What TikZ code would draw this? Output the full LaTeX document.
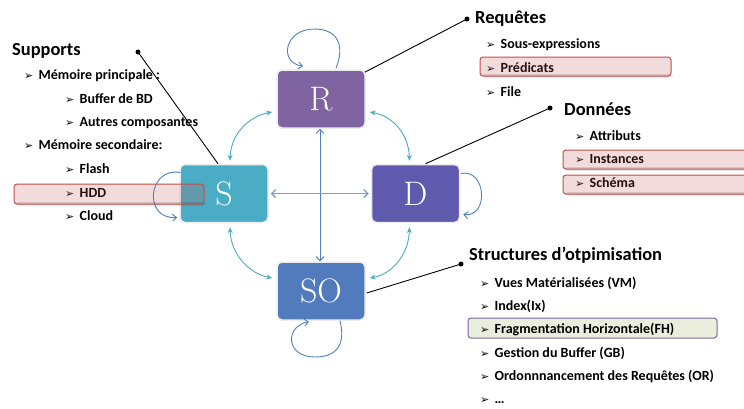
\documentclass[tikz,border=0pt]{standalone}
\usepackage{fontspec}
\newfontfamily\carl{Carlito}
\newfontfamily\bulfont{DejaVu Sans}
\usetikzlibrary{arrows.meta}

\definecolor{rcol}{HTML}{8064A2}
\definecolor{scol}{HTML}{4BACC6}
\definecolor{dcol}{HTML}{5F5AAD}
\definecolor{socol}{HTML}{517BBD}
\definecolor{tealarr}{HTML}{4BACC6}
\definecolor{bluearr}{HTML}{4F81BD}
\definecolor{hbar}{HTML}{7F9DCB}
\definecolor{hlred}{HTML}{C0504D}
\definecolor{fhfill}{HTML}{EAEEDD}

\tikzset{
  box/.style={rounded corners=5pt, draw=black!7, line width=1.5pt,
    minimum width=88pt, minimum height=58pt, inner sep=0pt,
    text=white, font=\fontsize{34}{40}\selectfont},
  head/.style={anchor=base west, inner sep=0pt,
    font=\carl\bfseries\fontsize{18.4}{21}\selectfont},
  item/.style={anchor=base west, inner sep=0pt,
    font=\carl\bfseries\fontsize{14}{16}\selectfont},
  bul/.style={anchor=base west, inner sep=0pt,
    font=\bulfont\fontsize{11}{12}\selectfont},
  twoway/.style={tealarr, line width=0.9pt, {Stealth[length=6pt,width=5pt]}-{Stealth[length=6pt,width=5pt]}},
  loopy/.style={bluearr, line width=0.9pt, -{Straight Barb[length=4pt,width=7pt]}},
  straight/.style={line width=1pt, {Straight Barb[length=4pt,width=8pt]}-{Straight Barb[length=4pt,width=8pt]}},
  pointer/.style={black, line width=0.9pt},
  dot/.style={circle, fill=black, inner sep=0pt, minimum size=5pt},
  hlshadow/.style={rounded corners=3pt, fill=black, fill opacity=0.12},
  hl/.style={rounded corners=3pt, draw=hlred, line width=1pt, fill=hlred,
    fill opacity=0.2},
  fh/.style={rounded corners=3pt, draw=rcol, line width=1pt, fill=fhfill}
}

% one list entry: arrowhead bullet and its text
\newcommand\listentry[4]{%
  \node[bul]  (#1b) at (#2,#3) {➢};
  \node[item] (#1)  at (#2+14.5,#3) {#4};
}

\begin{document}
\begin{tikzpicture}[x=1pt,y=-1pt]
\clip (0,0) rectangle (744,408);
\fill[white] (0,0) rectangle (744,408);

% the four blocks
\node[box, fill=rcol]  (R)  at (321,99)    {R};
\node[box, fill=scol]  (S)  at (224,193.5) {S};
\node[box, fill=dcol]  (D)  at (415.5,193.5) {D};
\node[box, fill=socol] (SO) at (321,291)   {SO};

% curved two-way links
\draw[twoway] ([xshift=6pt,yshift=3pt]S.north) .. controls +(1,-28) and +(-22,4) .. ([xshift=-4pt,yshift=-13pt]R.west);
\draw[twoway] ([xshift=4pt,yshift=-13pt]R.east) .. controls +(22,4) and +(-1,-28) .. ([xshift=-6pt,yshift=3pt]D.north);
\draw[twoway] ([xshift=6pt,yshift=-4pt]S.south) .. controls +(1,28) and +(-22,-4) .. ([xshift=-4pt,yshift=13pt]SO.west);
\draw[twoway] ([xshift=-6pt,yshift=-4pt]D.south) .. controls +(-1,28) and +(22,-4) .. ([xshift=4pt,yshift=13pt]SO.east);

% straight links
\draw[straight, bluearr] ([xshift=-1pt]R.south) -- ([xshift=-1pt]SO.north);
\draw[straight, hbar, line width=1.4pt] ([xshift=2pt]S.east) -- ([xshift=-2pt]D.west);

% self loops
\coordinate (Rtop) at (314,29);
\draw[loopy] ([xshift=15pt,yshift=1pt]R.north) .. controls +(9,-23) and +(24,0) .. (Rtop)
  .. controls +(-29,0) and +(-25,-4) .. ([xshift=-18pt,yshift=3pt]R.north);
\draw[loopy] ([xshift=1pt,yshift=21pt]S.west) .. controls +(-32,-6) and +(-35,2) .. ([xshift=-2pt,yshift=-24pt]S.west);
\draw[loopy] ([xshift=1pt,yshift=20pt]D.east) .. controls +(25,-5) and +(26,3) .. ([xshift=3pt,yshift=-21pt]D.east);
\coordinate (SObot) at (315,357);
\draw[loopy] ([xshift=19pt]SO.south) .. controls +(5,20) and +(25,0) .. (SObot)
  .. controls +(-30,0) and +(-24,4) .. ([xshift=-12pt,yshift=-1pt]SO.south);

% pointers to the lists
\node[dot] (psup) at (138,52) {};
\node[dot] (preq) at (467,19) {};
\node[dot] (pdon) at (550,108) {};
\node[dot] (pso)  at (461,264) {};
\draw[pointer] (psup.center) -- ([xshift=-6pt]S.north);
\draw[pointer] ([xshift=-1pt,yshift=-3pt]R.north east) -- (preq.center);
\draw[pointer] ([xshift=10pt]D.north) -- (pdon.center);
\draw[pointer] ([xshift=1pt,yshift=-2pt]SO.east) -- (pso.center);

% highlighted item under the text
\draw[fh] (468,318) rectangle (717,338);

% Supports
\node[head] (sup) at (12,55) {Supports};
\listentry{mp}{24}{79}{Mémoire principale :}
\listentry{bbd}{65}{103}{Buffer de BD}
\listentry{ac}{65}{126}{Autres composantes}
\listentry{ms}{24}{149}{Mémoire secondaire:}
\listentry{fl}{65}{173}{Flash}
\listentry{hdd}{65}{197}{HDD}
\listentry{cl}{65}{220}{Cloud}

% Requêtes
\node[head] (req) at (475,23) {Requêtes};
\listentry{se}{486}{48}{Sous-expressions}
\listentry{pr}{486}{72}{Prédicats}
\listentry{fi}{486}{96}{File}

% Données
\node[head] (don) at (564,115) {Données};
\listentry{at}{575}{140}{Attributs}
\listentry{in}{575}{163}{Instances}
\listentry{sc}{575}{187}{Schéma}

% Structures d'optimisation
\node[head] (str) at (469,260) {Structures d’otpimisation};
\listentry{vm}{480}{287}{Vues Matérialisées (VM)}
\listentry{ix}{480}{310}{Index(Ix)}
\listentry{fhh}{480}{333}{Fragmentation Horizontale(FH)}
\listentry{gb}{480}{357}{Gestion du Buffer (GB)}
\listentry{or}{480}{380}{Ordonnnancement des Requêtes (OR)}
\listentry{etc}{480}{403}{…}

% translucent highlights with a soft shadow edge
\foreach \a/\b/\c/\d in {14/184/204/204, 480/57/671/76, 563/150/760/169, 563/175/760/194}{
  \fill[hlshadow] (\a+1.5,\d-2) rectangle (\c+1.5,\d+1.5);
  \draw[hl] (\a,\b) rectangle (\c,\d);
}
\end{tikzpicture}
\end{document}
